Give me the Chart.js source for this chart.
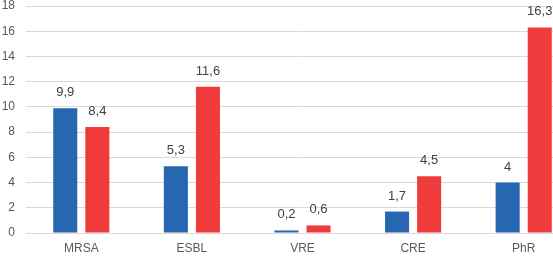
<!DOCTYPE html>
<html>
<head>
<meta charset="utf-8">
<script src="https://cdn.jsdelivr.net/npm/chart.js@4/dist/chart.umd.min.js"></script>
<style>
  html, body { margin: 0; padding: 0; overflow: hidden; background: #fff; }
  #wrap { width: 579px; height: 260px; }
</style>
</head>
<body>
<div id="wrap"><canvas id="chart" width="579" height="260"></canvas></div>
<script>
const categories = ["MRSA", "ESBL", "VRE", "CRE", "PhR"];
const seriesBlue = [9.9, 5.3, 0.2, 1.7, 4];
const seriesRed = [8.4, 11.6, 0.6, 4.5, 16.3];
const yTicks = [0, 2, 4, 6, 8, 10, 12, 14, 16, 18];

// simple value labels above bars, with decimal comma
const barLabels = {
  id: "barLabels",
  afterDatasetsDraw(chart) {
    const ctx = chart.ctx;
    ctx.save();
    ctx.font = "13px 'Liberation Sans', sans-serif";
    ctx.fillStyle = "#404040";
    ctx.textAlign = "center";
    ctx.textBaseline = "alphabetic";
    chart.data.datasets.forEach((ds, i) => {
      chart.getDatasetMeta(i).data.forEach((bar, j) => {
        const txt = String(ds.data[j]).replace(".", ",");
        ctx.fillText(txt, bar.x, bar.y - 12);
      });
    });
    ctx.restore();
  }
};

new Chart(document.getElementById("chart"), {
  type: "bar",
  data: {
    labels: categories,
    datasets: [
      { data: seriesBlue, backgroundColor: "#2767b1", barPercentage: 0.75, categoryPercentage: 0.58 },
      { data: seriesRed, backgroundColor: "#ef3b3b", barPercentage: 0.75, categoryPercentage: 0.58 }
    ]
  },
  options: {
    responsive: false,
    animation: false,
    layout: { padding: { top: 6, right: 0, left: 0, bottom: 0 } },
    plugins: { legend: { display: false }, tooltip: { enabled: false } },
    scales: {
      x: {
        grid: { display: false, drawTicks: false },
        border: { display: false },
        ticks: { color: "#595959", font: { family: "'Liberation Sans', sans-serif", size: 12 }, padding: 8 },
        afterFit(scale) { scale.height = 27; }
      },
      y: {
        min: 0,
        max: 18,
        afterBuildTicks(scale) { scale.ticks = yTicks.map(v => ({ value: v })); },
        grid: { color: "#d9d9d9", drawTicks: false },
        border: { display: false },
        ticks: { color: "#595959", font: { family: "'Liberation Sans', sans-serif", size: 12 }, padding: 11 },
        afterFit(scale) {
          scale.width = 26;
          scale.paddingTop = 0;
          scale.paddingBottom = 0;
        }
      }
    }
  },
  plugins: [barLabels]
});
</script>
</body>
</html>
